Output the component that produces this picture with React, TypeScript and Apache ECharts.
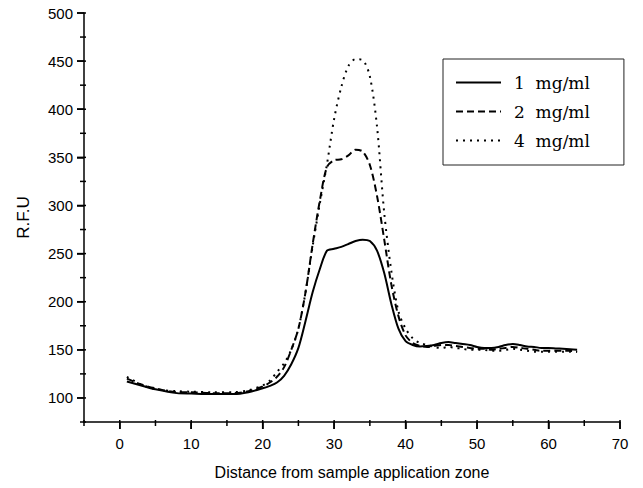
import React, { useEffect, useRef } from "react";
import * as echarts from "echarts";

const xs = [1, 3, 5, 8, 10, 13, 16, 18, 20, 21, 22, 23, 24, 25, 26, 27, 28, 29, 30, 31, 32, 33, 34, 35, 36, 37, 38, 39, 40, 41, 42, 43, 44, 45, 46, 47, 48, 49, 50, 51, 52, 53, 54, 55, 56, 57, 58, 59, 60, 61, 62, 63, 64];

const s1 = [117, 113, 109, 105, 104.5, 104, 104, 106, 110, 112.5, 116, 123, 135, 152, 180, 210, 234, 253, 255, 257, 260, 263, 264.5, 263, 253, 230, 198, 172, 159, 155, 153.5, 154, 155, 157, 158, 157, 156, 155, 153, 152, 152, 153, 155, 156, 155, 153.5, 153, 152, 152, 151.5, 151, 150.5, 150];
const s2 = [120, 114, 110, 106, 106, 105, 105, 107, 112, 116, 122, 132, 150, 172, 210, 260, 305, 340, 347, 348, 352, 358, 356, 342, 310, 265, 218, 185, 165, 157, 154, 153, 154, 155, 155, 154, 153, 152, 151, 151, 150, 151, 152, 153, 152, 151, 150, 149, 149, 149, 149, 149, 148];
const s4 = [122, 114, 109, 107, 106.5, 106, 106, 108, 113, 118, 127, 136, 150, 172, 210, 258, 302, 343, 390, 423, 445, 452, 451, 434, 382, 293, 232, 190, 172, 162, 157, 155, 153, 152, 153, 152, 151, 150, 150, 150, 149, 149, 150, 151, 150, 149, 148, 148, 148, 148, 148, 148, 148];

const seriesNames = ["1  mg/ml", "2  mg/ml", "4  mg/ml"];
const X_MIN = -5;
const X_MAX = 70;
const Y_MIN = 75;
const Y_MAX = 500;
const yMajor = [100, 150, 200, 250, 300, 350, 400, 450, 500];
const yMinor = [75, 125, 175, 225, 275, 325, 375, 425, 475];
const xMajor = [0, 10, 20, 30, 40, 50, 60, 70];
const xMinor = [-5, 5, 15, 25, 35, 45, 55, 65];

const pair = (ys: number[]) => xs.map((x, i) => [x, ys[i]]);

export default function App() {
  const ref = useRef<HTMLDivElement>(null);
  useEffect(() => {
    const chart = echarts.init(ref.current!, undefined, { renderer: "svg" });
    const axisFont = { fontFamily: "Liberation Sans, Arial, sans-serif", fontSize: 15, color: "#000" };
    const lineStyle = { color: "#000", width: 1.5 };
    const tickStyle = { stroke: "#000", lineWidth: 1.5, fill: null };
    // axis tick marks, positioned through the axes' own scales
    const xTicks = (values: number[], len: number) => ({
      type: "custom",
      silent: true,
      clip: false,
      z: 10,
      data: values.map((v) => [v, Y_MIN]),
      encode: { x: 0, y: 1 },
      renderItem: (_p: any, api: any) => {
        const pt = api.coord([api.value(0), api.value(1)]);
        return { type: "line", shape: { x1: pt[0], y1: pt[1] - 2, x2: pt[0], y2: pt[1] + len }, style: tickStyle };
      },
    });
    const yTicks = (values: number[], len: number) => ({
      type: "custom",
      silent: true,
      clip: false,
      z: 10,
      data: values.map((v) => [X_MIN, v]),
      encode: { x: 0, y: 1 },
      renderItem: (_p: any, api: any) => {
        const pt = api.coord([api.value(0), api.value(1)]);
        return { type: "line", shape: { x1: pt[0] - len, y1: pt[1], x2: pt[0] + 2, y2: pt[1] }, style: tickStyle };
      },
    });
    chart.setOption({
      animation: false,
      backgroundColor: "#fff",
      grid: { left: 84, right: 23, top: 13, bottom: 66 },
      legend: {
        left: 443,
        top: 59,
        orient: "vertical",
        padding: [15, 34, 16, 12],
        itemWidth: 45,
        itemHeight: 14,
        itemGap: 12,
        borderColor: "#222",
        borderWidth: 1,
        itemStyle: { opacity: 0 },
        textStyle: { fontFamily: "DejaVu Serif, serif", fontSize: 17, color: "#000", padding: [0, 0, 0, 8] },
        data: seriesNames,
      },
      xAxis: {
        type: "value",
        min: X_MIN,
        max: X_MAX,
        name: "Distance from sample application zone",
        nameLocation: "middle",
        nameGap: 42,
        nameTextStyle: { fontFamily: "Liberation Sans, Arial, sans-serif", fontSize: 16, color: "#000" },
        axisLine: { show: true, onZero: false, lineStyle },
        axisTick: { show: true, length: 7, customValues: xMajor, lineStyle },
        axisLabel: { customValues: xMajor, margin: 14, ...axisFont },
        splitLine: { show: false },
      },
      yAxis: {
        type: "value",
        min: Y_MIN,
        max: Y_MAX,
        name: "R.F.U",
        nameLocation: "middle",
        nameGap: 52,
        nameTextStyle: { fontFamily: "Liberation Sans, Arial, sans-serif", fontSize: 17, color: "#000" },
        axisLine: { show: true, onZero: false, lineStyle },
        axisTick: { show: true, length: 7, customValues: yMajor, lineStyle },
        axisLabel: { customValues: yMajor, margin: 11, ...axisFont },
        splitLine: { show: false },
      },
      series: [
        {
          name: seriesNames[0],
          type: "line",
          data: pair(s1),
          smooth: 0.3,
          showSymbol: false,
          lineStyle: { color: "#000", width: 2, type: "solid" },
          itemStyle: { color: "#000" },
        },
        {
          name: seriesNames[1],
          type: "line",
          data: pair(s2),
          smooth: 0.3,
          showSymbol: false,
          lineStyle: { color: "#000", width: 2, type: [7, 4] },
          itemStyle: { color: "#000" },
        },
        {
          name: seriesNames[2],
          type: "line",
          data: pair(s4),
          smooth: 0.3,
          showSymbol: false,
          lineStyle: { color: "#000", width: 2, type: [2, 5] },
          itemStyle: { color: "#000" },
        },
        xTicks(xMajor, 7),
        xTicks(xMinor, 4),
        yTicks(yMajor, 7),
        yTicks(yMinor, 4),
      ],
    });
    return () => chart.dispose();
  }, []);
  return <div ref={ref} style={{ position: "fixed", left: 0, top: 0, width: 643, height: 488 }} />;
}
